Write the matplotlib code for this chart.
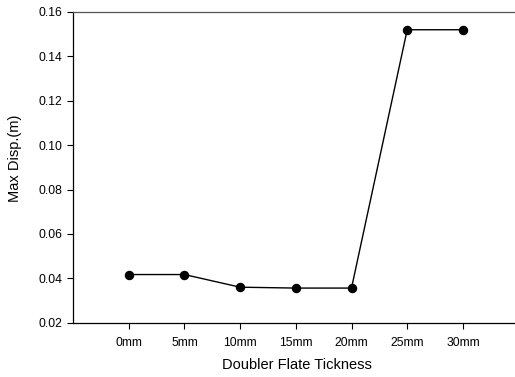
import matplotlib
matplotlib.use("Agg")
import matplotlib.pyplot as plt

categories = ["0mm", "5mm", "10mm", "15mm", "20mm", "25mm", "30mm"]
max_disp = [0.0417, 0.0417, 0.0360, 0.0356, 0.0356, 0.1520, 0.1520]
y_ticks = [0.02, 0.04, 0.06, 0.08, 0.10, 0.12, 0.14, 0.16]

plt.rcParams['font.family'] = ['Liberation Sans', 'DejaVu Sans']

W, H = 515, 377
fig = plt.figure(figsize=(W / 100, H / 100), dpi=100)
left, right_px, top, bottom = 73, 518.6, 12, 322.7
ax = fig.add_axes([left / W, (H - bottom) / H, (right_px - left) / W, (bottom - top) / H])

x = list(range(len(categories)))
ax.plot(x, max_disp, color='black', linewidth=1.0, marker='o', markersize=5.8,
        markerfacecolor='black', markeredgecolor='black')

ax.set_xlim(-1, 7)
ax.set_ylim(0.02, 0.16)
ax.set_xticks(x)
ax.set_xticklabels(categories)
ax.set_yticks(y_ticks)
ax.set_yticklabels([f"{v:.2f}" for v in y_ticks])

ax.tick_params(axis='both', direction='out', length=4, width=0.8, labelsize=8.7, pad=4)
ax.tick_params(axis='x', pad=6)
for s in ax.spines.values():
    s.set_linewidth(0.9)
ax.spines['right'].set_visible(False)
ax.spines['top'].set_color('#555555')

fig.text(15 / W, 1 - 158 / H, "Max Disp.(m)", rotation=90, ha='center', va='center', fontsize=10.5)
fig.text(296.7 / W, 1 - 365 / H, "Doubler Flate Tickness", ha='center', va='center', fontsize=10.5)

fig.savefig("out.png", dpi=100)
